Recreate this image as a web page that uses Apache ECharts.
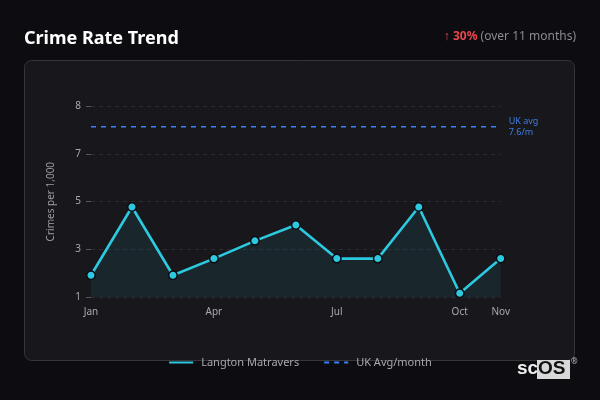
<!DOCTYPE html>
<html>
<head>
<meta charset="utf-8">
<script src="https://cdn.jsdelivr.net/npm/echarts@6/dist/echarts.min.js"></script>
<style>
html,body{margin:0;padding:0;background:#0d0d11;}
#c{width:600px;height:400px;}
</style>
</head>
<body>
<div id="c"></div>
<script>
const months = ['Jan','Feb','Mar','Apr','May','Jun','Jul','Aug','Sep','Oct','Nov'];
const localRate = [2.07, 4.61, 2.07, 2.69, 3.35, 3.94, 2.69, 2.69, 4.61, 1.40, 2.69];
const ukAvg = [7.6, 7.6, 7.6, 7.6, 7.6, 7.6, 7.6, 7.6, 7.6, 7.6, 7.6];
const yTickValues = [1.26, 3.035, 4.81, 6.585, 8.36];
const yTickLabels = ['1', '3', '5', '7', '8'];
const xLabelMonths = ['Jan','Apr','Jul','Oct','Nov'];

const chart = echarts.init(document.getElementById('c'), null, {renderer:'canvas'});
const FONT = 'Noto Sans';
chart.setOption({
  backgroundColor: '#0d0d11',
  animation: false,
  textStyle: {fontFamily: FONT},
  title: {
    text: 'Crime Rate Trend',
    left: 19, top: 25,
    textStyle: {color: '#ffffff', fontSize: 18, fontWeight: 'bold', fontFamily: FONT}
  },
  graphic: [
    {type: 'rect', z: -10, shape: {x: 24.5, y: 60.5, width: 550, height: 300, r: 7},
     style: {fill: '#18181c', stroke: '#35353a', lineWidth: 1}},
    {type: 'text', right: 24, top: 31,
     style: {text: '{a|↑ }{b|30%}{c| (over 11 months)}', rich: {
       a: {fill: '#e5484d', fontSize: 12, fontFamily: FONT},
       b: {fill: '#e5484d', fontSize: 12, fontWeight: 'bold', fontFamily: FONT},
       c: {fill: '#8a8a90', fontSize: 12, fontFamily: FONT}
     }}},
    {type: 'group', left: 517, top: 358, children: [
      {type: 'text', x: 0, y: 1, style: {text: 'sc', fill: '#f0f0f0', fontSize: 19, fontWeight: 'bold', fontFamily: 'Liberation Sans'}},
      {type: 'rect', shape: {x: 20, y: 2, width: 33, height: 19}, style: {fill: '#d8d8d8'}},
      {type: 'text', x: 21, y: 1, style: {text: 'OS', fill: '#111111', fontSize: 19, fontWeight: 'bold', fontFamily: 'Liberation Sans'}},
      {type: 'text', x: 54, y: 0, style: {text: '®', fill: '#bbbbbb', fontSize: 8, fontFamily: FONT}}
    ]}
  ],
  legend: {
    bottom: 27,
    left: 'center',
    itemWidth: 24, itemHeight: 10, itemGap: 24,
    textStyle: {color: '#a8a8ae', fontSize: 11, fontFamily: FONT, padding: [0,0,0,3]},
    itemStyle: {opacity: 0},
    data: ['Langton Matravers', 'UK Avg/month']
  },
  grid: {left: 91, right: 99.3, top: 106.3, bottom: 103, containLabel: false},
  xAxis: {
    type: 'category',
    data: months,
    boundaryGap: false,
    axisLine: {show: false},
    axisTick: {show: false},
    splitLine: {show: false},
    axisLabel: {
      color: '#a8a8ae', fontSize: 10, margin: 10, fontFamily: FONT,
      interval: (i, v) => xLabelMonths.indexOf(v) >= 0
    }
  },
  yAxis: {
    type: 'value',
    min: yTickValues[0], max: yTickValues[yTickValues.length - 1],
    name: 'Crimes per 1,000',
    nameLocation: 'middle', nameGap: 35, nameRotate: 90,
    nameTextStyle: {color: '#9a9aa0', fontSize: 10, fontFamily: FONT},
    axisLine: {show: false},
    axisTick: {show: true, length: 5, lineStyle: {color: '#55555a'}, customValues: yTickValues},
    axisLabel: {
      color: '#a8a8ae', fontSize: 10, margin: 10, fontFamily: FONT,
      customValues: yTickValues,
      formatter: (v) => { const i = yTickValues.findIndex(t => Math.abs(t - v) < 1e-6); return i >= 0 ? yTickLabels[i] : ''; }
    },
    splitLine: {show: true, lineStyle: {color: '#2c2c32', type: [4, 4], width: 1}}
  },
  series: [
    {
      name: 'Langton Matravers', type: 'line', data: localRate,
      symbol: 'circle', symbolSize: 8.5,
      lineStyle: {color: '#2cc9e0', width: 2.6},
      itemStyle: {color: '#2cc9e0', borderColor: '#0d0d11', borderWidth: 1.5},
      areaStyle: {color: 'rgba(44,201,224,0.11)'},
      z: 3
    },
    {
      name: 'UK Avg/month', type: 'line', data: ukAvg,
      symbol: 'none',
      lineStyle: {color: '#3b82f6', width: 1.6, type: [5, 5]},
      itemStyle: {color: '#3b82f6'},
      endLabel: {show: true, formatter: 'UK avg\n7.6/m', color: '#3f7de0', fontSize: 9, lineHeight: 11, fontFamily: FONT, distance: 8},
      z: 2
    }
  ]
});
</script>
</body>
</html>
